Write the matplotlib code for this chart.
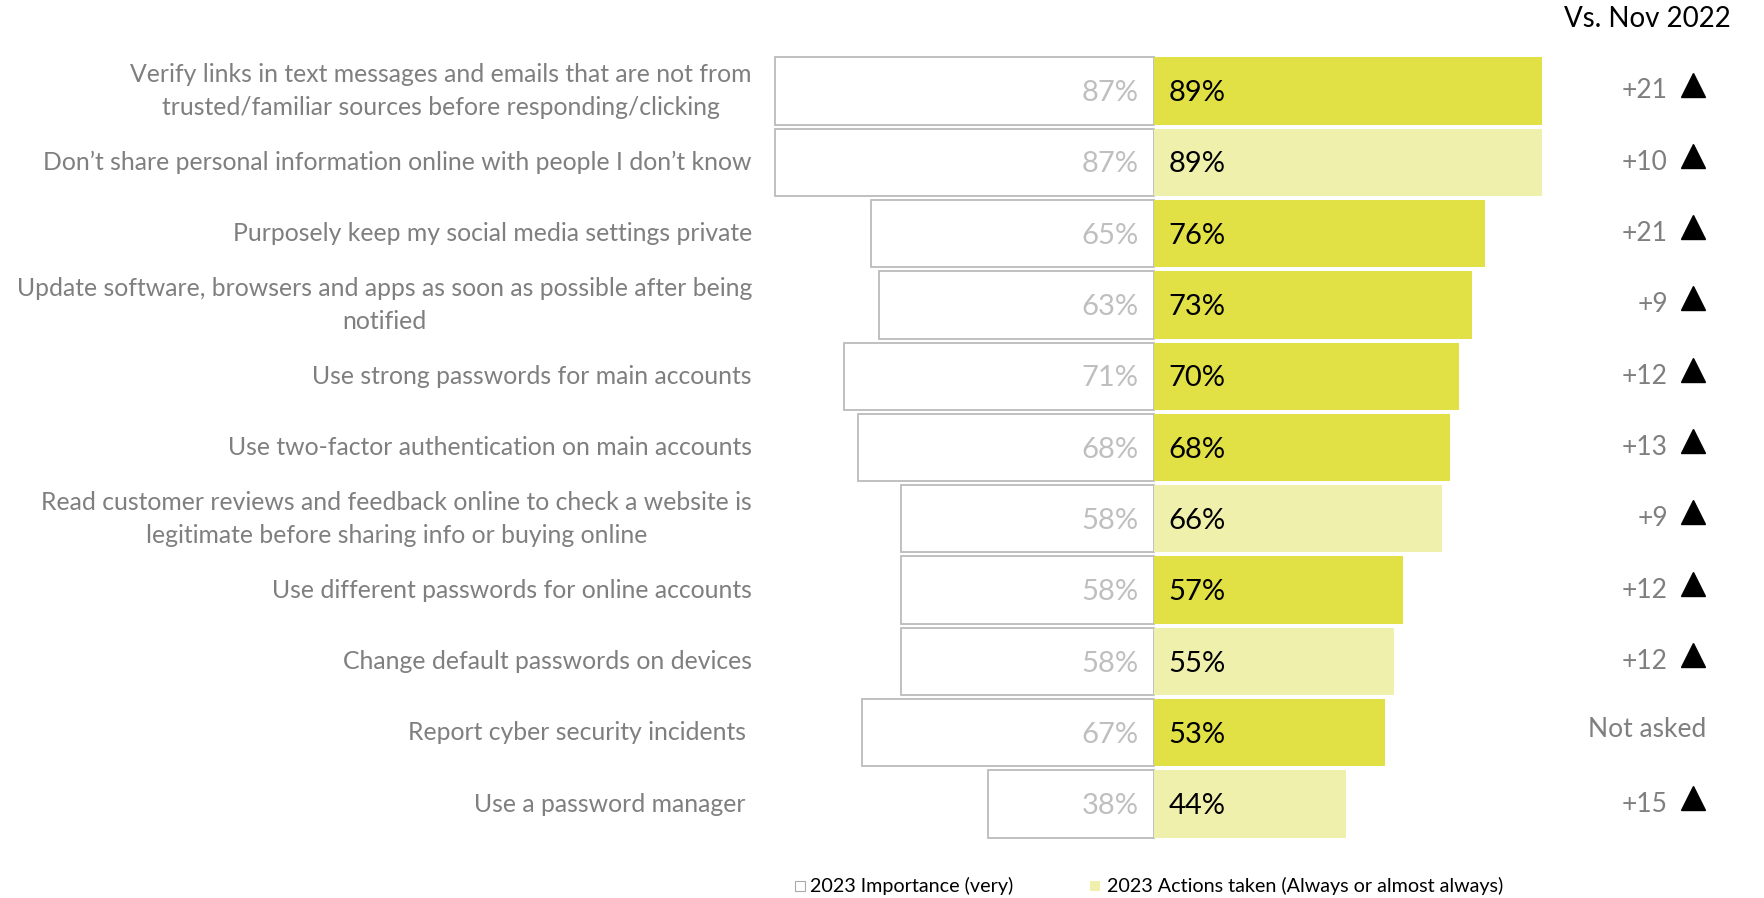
import matplotlib
matplotlib.use("Agg")
import matplotlib.pyplot as plt
from matplotlib.patches import Rectangle

# chart data
categories = [
    "Verify links in text messages and emails that are not from\ntrusted/familiar sources before responding/clicking",
    "Don\u2019t share personal information online with people I don\u2019t know",
    "Purposely keep my social media settings private",
    "Update software, browsers and apps as soon as possible after being\nnotified",
    "Use strong passwords for main accounts",
    "Use two-factor authentication on main accounts",
    "Read customer reviews and feedback online to check a website is\nlegitimate before sharing info or buying online",
    "Use different passwords for online accounts",
    "Change default passwords on devices",
    "Report cyber security incidents ",
    "Use a password manager ",
]
importance = [87, 87, 65, 63, 71, 68, 58, 58, 58, 67, 38]
actions = [89, 89, 76, 73, 70, 68, 66, 57, 55, 53, 44]
highlight = [True, False, True, True, True, True, False, True, False, True, False]
changes = ["+21", "+10", "+21", "+9", "+12", "+13", "+9", "+12", "+12", "Not asked", "+15"]

DARK = "#E1E045"
LIGHT = "#F0F0AD"
GREY_TXT = "#7F7F7F"
FONT = "Lato"

W, H = 1764, 898
fig = plt.figure(figsize=(W / 100, H / 100), dpi=100)
ax = fig.add_axes([0, 0, 1, 1])

# pixel geometry -> data limits (0% at x=1154px, 4.36 px per %)
x0, ppp = 1154, 4.36
ax.set_xlim(-x0 / ppp, (W - x0) / ppp)
y_first, pitch = 91, 71.3
ax.set_ylim((H - y_first) / pitch, -y_first / pitch)
ax.axis("off")

bh = 0.945
lx = (752 - x0) / ppp  # right edge of the category labels
for i, (imp, act) in enumerate(zip(importance, actions)):
    ax.barh(i, -imp, height=bh, color="white", edgecolor="#BBBBBB", linewidth=1.3)
    ax.barh(i, act, height=bh, color=DARK if highlight[i] else LIGHT, linewidth=0)
    ax.text(-3.6, i + 0.03, f"{imp}%", ha="right", va="center", color="#BFBFBF",
            fontsize=21, family=FONT)
    ax.text(3.4, i + 0.03, f"{act}%", ha="left", va="center", color="black",
            fontsize=21, family=FONT)
    ax.text(lx, i, categories[i], ha="right", va="center", color=GREY_TXT,
            fontsize=17.8, family=FONT, linespacing=1.53, multialignment="center")
    # change vs Nov 2022
    if changes[i] == "Not asked":
        ax.text((1647 - x0) / ppp, i - 0.04, changes[i], ha="center", va="center",
                color=GREY_TXT, fontsize=19, family=FONT)
    else:
        ax.text((1668 - x0) / ppp, i, changes[i], ha="right", va="center",
                color=GREY_TXT, fontsize=19, family=FONT)
        ax.plot((1693 - x0) / ppp, i - 0.09, marker="^", color="black", markersize=17)

fig.text(1731 / W, 1 - 6 / H, "Vs. Nov 2022", ha="right", va="top", fontsize=20,
         family=FONT, color="black")

# legend
ly = 1 - 886 / H
fig.patches.append(Rectangle((795 / W, ly - 5 / H), 10 / W, 10 / H, transform=fig.transFigure,
                             facecolor="white", edgecolor="#AAAAAA", linewidth=0.8))
fig.text(810 / W, ly, "2023 Importance (very)", ha="left", va="center", fontsize=14.2,
         family=FONT, color="black")
fig.patches.append(Rectangle((1090 / W, ly - 5 / H), 10 / W, 10 / H, transform=fig.transFigure,
                             facecolor=LIGHT, edgecolor="none"))
fig.text(1107 / W, ly, "2023 Actions taken (Always or almost always)", ha="left", va="center",
         fontsize=14.2, family=FONT, color="black")

fig.savefig("out.png", dpi=100, facecolor="white")
